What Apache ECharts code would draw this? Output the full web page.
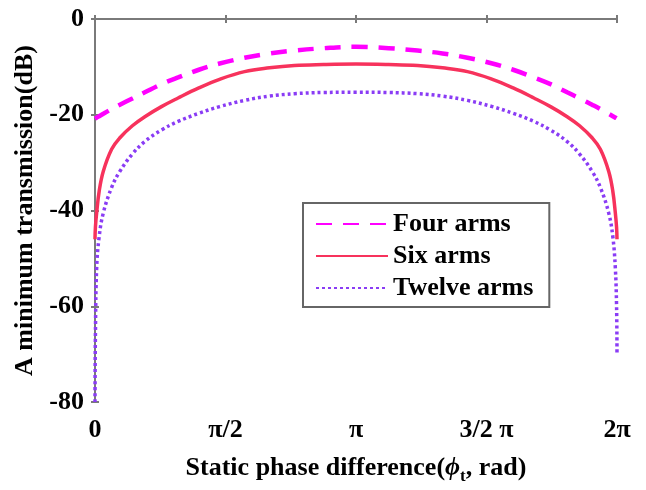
<!DOCTYPE html>
<html>
<head>
<meta charset="utf-8">
<script src="https://cdn.jsdelivr.net/npm/echarts@6/dist/echarts.min.js"></script>
<style>
  html, body { margin: 0; padding: 0; background: #fff; }
  #chart { width: 646px; height: 490px; }
</style>
</head>
<body>
<div id="chart"></div>
<script>
// phase (rad) sample points
const phase = [0, 0.005, 0.02, 0.05, 0.1, 0.2, 0.3, 0.45, 0.6, 0.8, 1.0, 1.25, 1.5, 1.8, 2.1, 2.4, 2.75, 3.1416,
  3.533, 3.883, 4.183, 4.483, 4.783, 5.033, 5.283, 5.483, 5.683, 5.833, 5.983, 6.083, 6.183, 6.233, 6.263, 6.278, 6.2832];

const fourArms = [-20.8, -20.7, -20.6, -20.3, -19.8, -18.8, -17.9, -16.6, -15.3, -13.6, -12.2, -10.6, -9.3, -8.1, -7.2, -6.6, -6.1, -5.8,
  -6.1, -6.6, -7.2, -8.1, -9.3, -10.6, -12.2, -13.6, -15.3, -16.6, -17.9, -18.8, -19.8, -20.3, -20.6, -20.7, -20.8];

const sixArms = [-46, -43.5, -40.5, -36, -31.8, -27.2, -24.8, -22.3, -20.4, -18.3, -16.5, -14.4, -12.6, -11.0, -10.2, -9.7, -9.5, -9.4,
  -9.5, -9.7, -10.2, -11.0, -12.6, -14.4, -16.5, -18.3, -20.4, -22.3, -24.8, -27.2, -31.8, -36, -40.5, -43.5, -46];

const twelveArms = [-80, -66, -52, -45.5, -40.5, -35.2, -31.8, -28.2, -25.6, -23.2, -21.4, -19.7, -18.3, -17.0, -16.1, -15.6, -15.35, -15.3,
  -15.35, -15.6, -16.1, -17.0, -18.3, -19.7, -21.4, -23.2, -25.6, -28.2, -31.8, -35.2, -40.5, -45.5, -52, -60, -70];

const xTickLabels = ['0', 'π/2', 'π', '3/2 π', '2π'];
const yTicks = { min: -80, max: 0, step: 20 };

const pairs = (ys) => phase.map((x, i) => [x, ys[i]]);

const font = 'Liberation Serif';
const fs = 26;
const axisGray = '#7a7a7a';

const chart = echarts.init(document.getElementById('chart'));

const boxAxis = (extra) => Object.assign({
  type: 'value',
  axisLine: { show: true, lineStyle: { color: axisGray, width: 2 } },
  axisTick: { show: true, inside: true, length: 4, lineStyle: { color: axisGray, width: 2 } },
  splitLine: { show: false }
}, extra);

chart.setOption({
  backgroundColor: '#fff',
  animation: false,
  grid: { left: 95, right: 29, top: 19, bottom: 87 },
  legend: {
    orient: 'vertical',
    left: 303,
    top: 203,
    itemWidth: 72,
    itemHeight: 14,
    itemGap: 6,
    padding: [8, 16, 6, 12],
    borderColor: '#666',
    borderWidth: 2,
    backgroundColor: '#fff',
    itemStyle: { opacity: 0 },
    textStyle: { fontFamily: font, fontWeight: 'bold', fontSize: fs, color: '#000' },
    data: ['Four arms', 'Six arms', 'Twelve arms']
  },
  xAxis: [boxAxis({
    min: 0,
    max: 2 * Math.PI,
    interval: Math.PI / 2,
    axisLabel: {
      margin: 15,
      fontFamily: font, fontWeight: 'bold', fontSize: fs, color: '#000',
      formatter: (v) => xTickLabels[Math.round(v / (Math.PI / 2))]
    },
    name: '{n|Static phase difference(}{phi|ϕ}{sub|t}{n|, rad)}',
    nameLocation: 'middle',
    nameGap: 50,
    nameTextStyle: {
      rich: {
        n: { fontFamily: font, fontWeight: 'bold', fontSize: fs, color: '#000' },
        phi: { fontFamily: font, fontWeight: 'bold', fontStyle: 'italic', fontSize: fs, color: '#000' },
        sub: { fontFamily: font, fontWeight: 'bold', fontSize: 17, color: '#000', padding: [16, 0, 0, 0] }
      }
    }
  }), boxAxis({
    position: 'top',
    min: 0,
    max: 2 * Math.PI,
    interval: Math.PI / 2,
    axisLabel: { show: false }
  })],
  yAxis: [boxAxis({
    min: yTicks.min,
    max: yTicks.max,
    interval: yTicks.step,
    axisLabel: { margin: 11, fontFamily: font, fontWeight: 'bold', fontSize: fs, color: '#000' },
    name: 'A minimum transmission(dB)',
    nameLocation: 'middle',
    nameGap: 56,
    nameTextStyle: { fontFamily: font, fontWeight: 'bold', fontSize: fs, color: '#000' }
  }), boxAxis({
    position: 'right',
    min: yTicks.min,
    max: yTicks.max,
    interval: yTicks.step,
    axisLabel: { show: false }
  })],
  series: [{
    name: 'Four arms',
    type: 'line',
    smooth: 0.4,
    showSymbol: false,
    symbol: 'none',
    color: '#ff00ff',
    lineStyle: { color: '#ff00ff', width: 4.5, type: [16, 11] },
    data: pairs(fourArms),
    z: 3
  }, {
    name: 'Six arms',
    type: 'line',
    smooth: 0.4,
    showSymbol: false,
    symbol: 'none',
    color: '#f7325c',
    lineStyle: { color: '#f7325c', width: 3.5, type: 'solid' },
    data: pairs(sixArms),
    z: 4
  }, {
    name: 'Twelve arms',
    type: 'line',
    smooth: 0.4,
    showSymbol: false,
    symbol: 'none',
    color: '#8a3cf5',
    lineStyle: { color: '#8a3cf5', width: 3.5, type: [3, 3] },
    data: pairs(twelveArms),
    z: 2
  }]
});
</script>
</body>
</html>
